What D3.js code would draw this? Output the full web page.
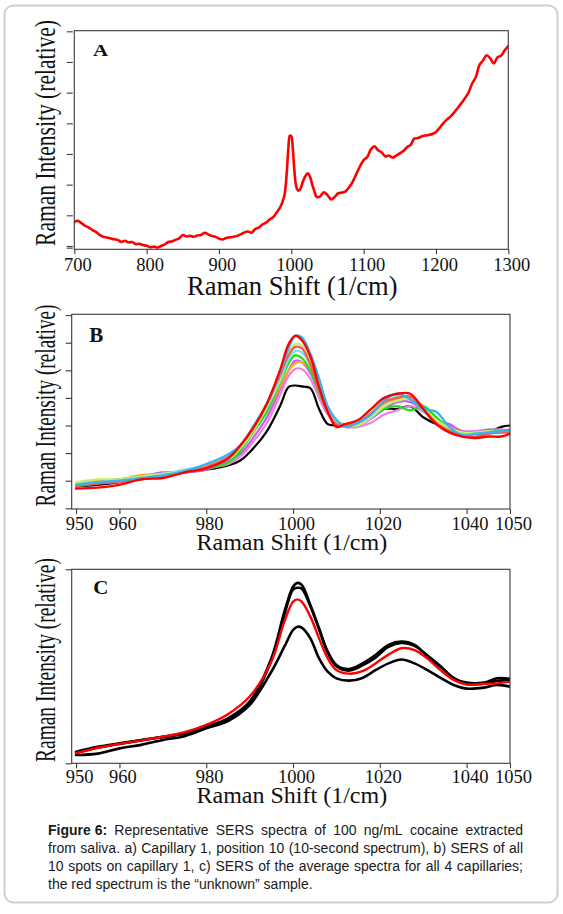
<!DOCTYPE html>
<html><head><meta charset="utf-8">
<script src="https://cdn.jsdelivr.net/npm/d3@7"></script>
<style>body{margin:0;background:#fff}svg{display:block}</style>
</head><body><svg id="c" width="563" height="914"></svg>
<script>
// ---------- DATA ----------
// Panel A: Capillary 1, position 10 (700-1300 1/cm)
const aShift = [700,705,710,715,720,725,730,735,740,745,750,755,760,765,770,775,780,785,790,795,800,805,810,815,820,825,830,835,840,845,850,855,860,865,870,875,880,885,890,895,900,905,910,915,920,925,930,935,940,945,950,955,960,965,970,975,980,985,990,992,994,996,998,1000,1002,1004,1006,1008,1010,1013,1016,1020,1023,1026,1029,1032,1035,1040,1045,1050,1055,1060,1065,1070,1075,1080,1085,1090,1095,1100,1105,1110,1115,1120,1125,1130,1135,1140,1145,1150,1155,1160,1165,1170,1175,1180,1185,1190,1195,1200,1205,1210,1215,1220,1225,1230,1235,1240,1245,1250,1255,1260,1265,1270,1275,1280,1285,1290,1295,1300];
const aIntensity = [0.78,0.82,0.74,0.66,0.60,0.52,0.46,0.36,0.30,0.28,0.25,0.22,0.20,0.13,0.17,0.12,0.13,0.06,0.07,0.03,0.01,-0.04,-0.02,-0.05,0.00,0.05,0.13,0.15,0.20,0.25,0.36,0.31,0.33,0.30,0.34,0.36,0.43,0.38,0.33,0.30,0.24,0.21,0.26,0.28,0.30,0.33,0.38,0.44,0.47,0.43,0.55,0.60,0.70,0.76,0.86,0.94,1.10,1.28,1.60,1.90,2.50,3.20,3.60,3.58,3.20,2.55,2.05,1.85,1.80,1.88,2.10,2.30,2.37,2.25,2.00,1.78,1.60,1.62,1.75,1.66,1.52,1.60,1.72,1.74,1.78,1.92,2.10,2.35,2.60,2.80,2.90,3.15,3.25,3.12,3.05,2.92,2.95,2.88,2.95,3.02,3.10,3.22,3.30,3.50,3.52,3.57,3.60,3.62,3.65,3.72,3.85,4.00,4.12,4.22,4.35,4.50,4.65,4.82,5.00,5.30,5.50,5.90,6.05,6.22,6.12,5.95,6.15,6.20,6.38,6.52];

// Panel B: all 10 spots on capillary 1
const bShift = [950,955,960,965,970,975,980,985,988,991,994,997,999,1000.5,1002,1004,1006,1008,1010,1012,1015,1018,1021,1024,1027,1030,1033,1036,1039,1042,1045,1048,1050];
const bSpotBlack   = [0.80,0.85,0.95,1.10,1.20,1.30,1.40,1.55,1.75,2.20,2.80,3.70,4.40,4.45,4.42,4.35,3.60,3.05,3.00,3.00,3.10,3.30,3.60,3.60,3.70,3.30,3.05,2.85,2.75,2.70,2.75,2.95,3.00];
const bSpotPink    = [0.85,0.90,1.00,1.10,1.20,1.30,1.45,1.60,1.90,2.45,3.10,4.10,4.80,5.05,5.05,4.70,4.00,3.40,3.05,2.95,2.95,3.10,3.40,3.55,3.70,3.50,3.20,2.95,2.80,2.80,2.85,2.80,2.85];
const bSpotMagenta = [0.90,1.00,1.05,1.15,1.30,1.30,1.40,1.70,2.00,2.60,3.30,4.30,5.00,5.35,5.30,4.90,4.20,3.50,3.10,3.00,3.00,3.25,3.60,3.85,3.85,3.55,3.20,3.05,2.80,2.75,2.85,2.85,2.80];
const bSpotOrange  = [0.90,1.00,1.05,1.20,1.25,1.35,1.55,1.80,2.20,2.80,3.50,4.40,5.00,5.25,5.30,5.00,4.30,3.60,3.15,3.05,3.10,3.40,3.80,3.95,4.00,3.70,3.30,2.95,2.75,2.70,2.80,2.85,2.80];
const bSpotGreen   = [0.80,0.90,1.00,1.05,1.15,1.30,1.45,1.65,2.10,2.80,3.50,4.55,5.25,5.55,5.45,5.00,4.20,3.50,3.10,3.05,3.05,3.30,3.60,3.70,3.55,3.70,3.30,2.85,2.75,2.70,2.80,2.80,2.70];
const bSpotCyan    = [0.90,0.95,1.05,1.15,1.25,1.40,1.55,1.85,2.30,2.90,3.65,4.60,5.40,5.70,5.65,5.20,4.40,3.60,3.20,3.00,3.05,3.30,3.70,4.05,3.95,3.55,3.10,2.75,2.65,2.70,2.75,2.75,2.80];
const bSpotLime    = [0.95,1.05,1.05,1.15,1.25,1.35,1.55,1.85,2.20,2.85,3.70,4.70,5.60,5.95,5.90,5.35,4.40,3.60,3.10,3.00,3.00,3.30,3.70,3.90,3.95,3.60,3.20,2.90,2.75,2.75,2.80,2.75,2.80];
const bSpotSalmon  = [0.80,0.90,0.95,1.05,1.15,1.30,1.50,1.85,2.30,3.00,3.80,4.80,5.55,5.85,5.80,5.20,4.30,3.50,3.05,3.00,3.10,3.45,3.85,4.00,4.05,3.60,3.10,2.80,2.65,2.60,2.70,2.75,2.75];
const bSpotBlue    = [0.85,0.95,1.00,1.10,1.20,1.35,1.60,1.95,2.30,3.00,3.80,4.90,5.80,6.25,6.20,5.60,4.70,3.70,3.20,2.95,3.10,3.40,3.90,4.15,3.95,3.60,3.50,2.95,2.65,2.70,2.75,2.80,2.85];
const bSpotRed     = [0.72,0.75,0.85,1.05,1.10,1.30,1.45,1.80,2.30,2.95,3.80,5.00,5.95,6.25,6.10,5.50,4.40,3.50,2.95,3.05,3.20,3.60,4.00,4.15,4.15,3.60,3.05,2.75,2.60,2.55,2.60,2.60,2.70];

// Panel C: average spectra of the 4 capillaries (red = "unknown")
const cShift = [950,955,960,965,970,975,980,985,990,995,998,1000,1001,1002,1004,1006,1008,1010,1013,1016,1019,1022,1025,1028,1031,1034,1037,1040,1044,1047,1050];
const cCapillary1 = [0.060,0.085,0.103,0.120,0.137,0.155,0.189,0.232,0.318,0.541,0.780,0.910,0.930,0.920,0.816,0.696,0.576,0.507,0.486,0.515,0.558,0.610,0.627,0.610,0.550,0.498,0.438,0.416,0.416,0.438,0.435];
const cCapillary2 = [0.055,0.080,0.100,0.118,0.135,0.152,0.185,0.228,0.310,0.530,0.765,0.895,0.905,0.900,0.810,0.690,0.570,0.500,0.478,0.505,0.545,0.600,0.620,0.605,0.555,0.500,0.440,0.410,0.410,0.425,0.430];
const cCapillary3 = [0.043,0.050,0.077,0.095,0.120,0.140,0.180,0.218,0.300,0.472,0.601,0.687,0.704,0.699,0.644,0.541,0.472,0.438,0.426,0.440,0.480,0.515,0.535,0.515,0.480,0.440,0.404,0.385,0.390,0.404,0.395];
const cUnknown    = [0.052,0.080,0.100,0.118,0.137,0.160,0.198,0.253,0.344,0.524,0.730,0.833,0.845,0.833,0.756,0.644,0.541,0.481,0.462,0.475,0.515,0.560,0.593,0.584,0.540,0.480,0.430,0.406,0.410,0.412,0.421];

const aXTicks = [700,800,900,1000,1100,1200,1300];
const aYTicks = [-0.055,0,1,2,3,4,5,6,7];
const bcXTicks = [950,960,980,1000,1020,1040,1050];
const bYTicks = [0,1,2,3,4,5,6,7];
const cYTicks = [0,1];

const xTitle = "Raman Shift (1/cm)";
const yTitle = "Raman Intensity (relative)";
const captionBold = "Figure 6:";
const captionText = "Representative SERS spectra of 100 ng/mL cocaine extracted from saliva. a) Capillary 1, position 10 (10-second spectrum), b) SERS of all 10 spots on capillary 1, c) SERS of the average spectra for all 4 capillaries; the red spectrum is the \u201cunknown\u201d sample.";

// ---------- DRAW ----------
const svg = d3.select("#c");
const SERIF = "'Liberation Serif','Times New Roman',serif";

svg.append("rect").attr("x",4.5).attr("y",5.5).attr("width",553).attr("height",897)
  .attr("rx",9).attr("fill","none").attr("stroke","#cfcfcf").attr("stroke-width",2);

function panel(o){
  const g = svg.append("g");
  const x = d3.scaleLinear().domain(o.xDomain).range([o.left,o.right]);
  const y = d3.scaleLinear().domain(o.yDomain).range([o.bottom,o.top]);
  const line = d3.line().x(d=>x(d[0])).y(d=>y(d[1])).curve(d3.curveCatmullRom.alpha(0.5));
  const clipId = "clip"+o.label;
  svg.append("clipPath").attr("id",clipId).append("rect")
    .attr("x",o.left).attr("y",o.top).attr("width",o.right-o.left).attr("height",o.bottom-o.top);
  const lg = g.append("g").attr("clip-path",`url(#${clipId})`);
  o.series.forEach(s=>{
    lg.append("path").datum(o.xs.map((v,i)=>[v,s.values[i]]))
      .attr("d",line).attr("fill","none").attr("stroke",s.color)
      .attr("stroke-width",s.width).attr("stroke-linejoin","round").attr("stroke-linecap","round");
  });
  // box
  g.append("rect").attr("x",o.left).attr("y",o.top).attr("width",o.right-o.left).attr("height",o.bottom-o.top)
    .attr("fill","none").attr("stroke","#3a3a3a").attr("stroke-width",1.1);
  // y ticks
  const ya = g.append("g").attr("transform",`translate(${o.left - o.yTickGap},0)`)
    .call(d3.axisLeft(y).tickValues(o.yTicks).tickSize(6).tickFormat(""));
  ya.select(".domain").remove();
  ya.selectAll("line").attr("stroke","#3a3a3a").attr("stroke-width",1.1);
  // x axis
  const xa = g.append("g").attr("transform",`translate(0,${o.bottom})`)
    .call(d3.axisBottom(x).tickValues(o.xTicks).tickSize(5).tickFormat(d3.format("d")));
  xa.select(".domain").remove();
  xa.selectAll("line").attr("stroke","#3a3a3a").attr("stroke-width",1.1);
  xa.selectAll("text").attr("y",o.tickBase-o.bottom).attr("dy",0).attr("dx",o.tickDx)
    .attr("font-family",SERIF).attr("font-size",18.5).attr("fill","#111");
  // titles
  g.append("text").attr("x",(o.left+o.right)/2+1).attr("y",o.titleBase).attr("text-anchor","middle")
    .attr("font-family",SERIF).attr("font-size",o.titleSize).attr("fill","#111").text(xTitle);
  const yt = g.append("text").attr("text-anchor","middle")
    .attr("font-family",SERIF).attr("font-size",30).attr("fill","#111").text(yTitle);
  const L = yt.node().getComputedTextLength();
  yt.attr("transform",`translate(55,${o.yTitleC}) rotate(-90) scale(${o.yTitleLen/L},1)`);
  g.append("text").attr("transform",`translate(${o.labelX},${o.labelY}) scale(1,${o.labelSy})`)
    .attr("font-family",SERIF).attr("font-weight","bold").attr("font-size",21).attr("fill","#111").text(o.label);
}

panel({label:"A", left:74.3,right:508.3,top:30.7,bottom:249.3,
  xDomain:[700,1300], yDomain:[-0.108,7.02], xs:aShift,
  series:[{values:aIntensity,color:"#ff0000",width:2.6}],
  xTicks:aXTicks, yTicks:aYTicks, yTickGap:1.5, tickBase:270.7, tickDx:3,
  titleBase:295, titleSize:26.5, yTitleC:133, yTitleLen:226,
  labelX:93, labelY:56, labelSy:0.75});

panel({label:"B", left:71.7,right:510,top:314.3,bottom:509,
  xDomain:[949,1050], yDomain:[-0.025,7.03], xs:bShift,
  series:[
    {values:bSpotBlack,color:"#000000",width:2.2},
    {values:bSpotPink,color:"#f27fe0",width:2.2},
    {values:bSpotMagenta,color:"#c85cf0",width:2.2},
    {values:bSpotOrange,color:"#ffa31f",width:2.2},
    {values:bSpotGreen,color:"#1ee01e",width:2.2},
    {values:bSpotCyan,color:"#6fe3ec",width:2.2},
    {values:bSpotLime,color:"#c8ef6a",width:2.2},
    {values:bSpotSalmon,color:"#f35a52",width:2.2},
    {values:bSpotBlue,color:"#39b2f2",width:2.4},
    {values:bSpotRed,color:"#ff0000",width:2.4}],
  xTicks:bcXTicks, yTicks:bYTicks, yTickGap:0, tickBase:530, tickDx:3,
  titleBase:550, titleSize:24, yTitleC:405.5, yTitleLen:202,
  labelX:89.3, labelY:341.7, labelSy:1});

panel({label:"C", left:71.7,right:510,top:569.3,bottom:763.3,
  xDomain:[949,1050], yDomain:[0,1], xs:cShift,
  series:[
    {values:cCapillary1,color:"#000000",width:2.6},
    {values:cCapillary2,color:"#000000",width:2.6},
    {values:cCapillary3,color:"#000000",width:2.6},
    {values:cUnknown,color:"#ff0000",width:2.4}],
  xTicks:bcXTicks, yTicks:cYTicks, yTickGap:0, tickBase:783.3, tickDx:3,
  titleBase:803, titleSize:24, yTitleC:660, yTitleLen:204,
  labelX:93.3, labelY:594.3, labelSy:0.85});

// caption (justified)
(function(){
  const X0 = 48, X1 = 523, base0 = 835, lh = 17.9, fs = 14;
  const SANS = "'Liberation Sans',Arial,sans-serif";
  const tokens = [{t:captionBold,b:true}].concat(captionText.split(" ").map(t=>({t,b:false})));
  const meas = svg.append("text").attr("font-family",SANS).attr("font-size",fs);
  tokens.forEach(tk=>{ meas.attr("font-weight",tk.b?"bold":"normal").text(tk.t); tk.w = meas.node().getComputedTextLength(); });
  meas.remove();
  const spW = fs*0.278;
  const lines = []; let cur = [], curW = 0;
  tokens.forEach(tk=>{
    const add = cur.length ? spW + tk.w : tk.w;
    if (curW + add > X1 - X0 && cur.length){ lines.push(cur); cur=[tk]; curW=tk.w; }
    else { cur.push(tk); curW += add; }
  });
  if (cur.length) lines.push(cur);
  lines.forEach((ln,li)=>{
    const wsum = d3.sum(ln,d=>d.w);
    const gaps = ln.length-1;
    const gap = (li < lines.length-1 && gaps>0) ? (X1-X0-wsum)/gaps : spW;
    let xx = X0;
    ln.forEach(tk=>{
      svg.append("text").attr("x",xx).attr("y",base0+li*lh).attr("font-family",SANS)
        .attr("font-size",fs).attr("font-weight",tk.b?"bold":"normal").attr("fill","#1a1a1a").text(tk.t);
      xx += tk.w + gap;
    });
  });
})();
</script></body></html>
